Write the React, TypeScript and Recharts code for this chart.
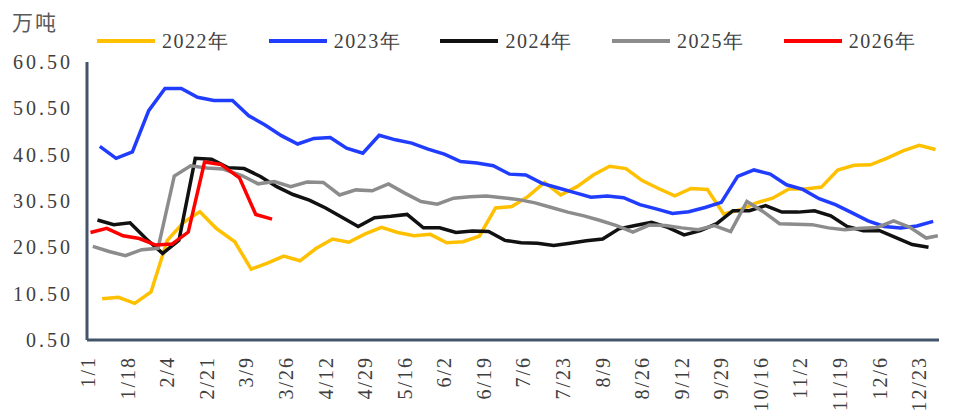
import React from "react";
import { LineChart, Line, XAxis, YAxis } from "recharts";

// weekly readings (万吨), first reading of each year is its first Friday
const start2022 = [2022, 1, 7];
const values2022 = [
  9.4, 9.7, 8.4, 10.9, 22.0, 25.9, 28.2, 24.6, 21.7, 15.8, 17.1, 18.6, 17.6,
  20.3, 22.3, 21.6, 23.4, 24.8, 23.7, 23.0, 23.3, 21.5, 21.7, 22.9, 29.0, 29.3,
  31.5, 34.5, 31.8, 33.6, 36.1, 38.0, 37.5, 34.9, 33.2, 31.6, 33.2, 33.0, 27.7,
  28.6, 30.1, 31.1, 33.1, 33.1, 33.5, 37.2, 38.2, 38.3, 39.7, 41.3, 42.5, 41.6,
];

const start2023 = [2023, 1, 6];
const values2023 = [
  42.3, 39.7, 41.1, 50.0, 54.8, 54.8, 52.9, 52.2, 52.2, 48.9, 46.9, 44.6, 42.8,
  44.0, 44.2, 41.9, 40.8, 44.7, 43.7, 43.0, 41.7, 40.6, 39.0, 38.7, 38.1, 36.3,
  36.1, 34.3, 33.3, 32.3, 31.3, 31.6, 31.2, 29.7, 28.8, 27.8, 28.2, 29.1, 30.2,
  35.8, 37.2, 36.3, 34.0, 33.0, 31.0, 29.7, 28.0, 26.2, 25.0, 24.7, 25.1, 26.1,
];

const start2024 = [2024, 1, 5];
const values2024 = [
  26.4, 25.4, 25.8, 22.3, 19.2, 22.0, 39.7, 39.5, 37.7, 37.5, 35.8, 33.6, 31.9,
  30.7, 29.0, 27.0, 25.0, 26.9, 27.2, 27.6, 24.7, 24.7, 23.7, 24.0, 23.9, 22.0,
  21.5, 21.4, 20.9, 21.4, 21.9, 22.3, 24.5, 25.2, 25.9, 24.8, 23.2, 24.1, 25.6,
  28.4, 28.4, 29.5, 28.1, 28.1, 28.4, 27.3, 25.0, 24.1, 24.1, 22.6, 21.1, 20.5,
];

const start2025 = [2025, 1, 3];
const values2025 = [
  20.7, 19.6, 18.7, 20.0, 20.3, 35.9, 38.1, 37.6, 37.4, 36.0, 34.2, 34.7, 33.6,
  34.6, 34.5, 31.8, 32.9, 32.7, 34.2, 32.2, 30.4, 29.8, 31.1, 31.4, 31.6, 31.2,
  30.8, 30.1, 29.1, 28.1, 27.3, 26.3, 25.2, 23.8, 25.3, 25.2, 24.7, 24.3, 25.2,
  23.9, 30.4, 28.2, 25.6, 25.5, 25.4, 24.7, 24.3, 24.6, 24.8, 26.2, 24.8, 22.5,
  23.0,
];

const start2026 = [2026, 1, 2];
const values2026 = [23.7, 24.6, 23.0, 22.4, 21.0, 21.2, 23.8, 38.9, 38.4, 35.5, 27.6, 26.6];

const tickLabels = [
  "1/1", "1/18", "2/4", "2/21", "3/9", "3/26", "4/12", "4/29", "5/16", "6/2", "6/19",
  "7/6", "7/23", "8/9", "8/26", "9/12", "9/29", "10/16", "11/2", "11/19", "12/6", "12/23",
];
const yTicks = [0.5, 10.5, 20.5, 30.5, 40.5, 50.5, 60.5];

// the date axis runs over a leap year (366 days)
const dayOfAxis = (month: number, date: number) =>
  Math.round((Date.UTC(2024, month - 1, date) - Date.UTC(2024, 0, 1)) / 864e5) + 1;

const axisLabel = (day: number) => {
  const d = new Date(Date.UTC(2024, 0, day));
  return `${d.getUTCMonth() + 1}/${d.getUTCDate()}`;
};

function weekly(start: number[], values: number[]) {
  const [year, month, date] = start;
  return values.map((value, i) => {
    let d = new Date(Date.UTC(year, month - 1, date + 7 * i));
    // the last reading of a year is booked on 12/31
    if (d.getUTCFullYear() > year) d = new Date(Date.UTC(year, 11, 31));
    return { day: dayOfAxis(d.getUTCMonth() + 1, d.getUTCDate()), value };
  });
}

const series = [
  { name: "2022年", color: "#FFC000", data: weekly(start2022, values2022) },
  { name: "2023年", color: "#1F3CFF", data: weekly(start2023, values2023) },
  { name: "2024年", color: "#111111", data: weekly(start2024, values2024) },
  { name: "2025年", color: "#8C8C8C", data: weekly(start2025, values2025) },
  { name: "2026年", color: "#FF0000", data: weekly(start2026, values2026) },
];

const xTicks = tickLabels.map((t) => {
  const [m, d] = t.split("/").map(Number);
  return dayOfAxis(m, d);
});

const FONT = "'Liberation Serif', serif";
const TEXT = "#404040";
const AXIS = "#44546A";

function DateTick({ x, y, payload }: { x?: number; y?: number; payload?: { value: number } }) {
  return (
    <g transform={`translate(${x},${y})`}>
      <text
        transform="rotate(-90)"
        textAnchor="end"
        dominantBaseline="central"
        fill={TEXT}
        fontSize={20}
        fontFamily={FONT}
        letterSpacing={2}
      >
        {axisLabel(payload?.value ?? 1)}
      </text>
    </g>
  );
}

export default function App() {
  return (
    <div style={{ position: "relative", width: 977, height: 418, background: "#fff" }}>
      <style>{"body{margin:0}"}</style>
      <div
        style={{
          position: "absolute",
          left: 12,
          top: 6,
          fontSize: 21,
          color: "#595959",
          fontFamily: "'Noto Sans CJK SC', sans-serif",
          letterSpacing: 2,
        }}
      >
        万吨
      </div>
      {series.map((s, i) => (
        <div
          key={s.name}
          style={{
            position: "absolute",
            left: 97 + i * 171.7,
            top: 29,
            height: 24,
            display: "flex",
            alignItems: "center",
          }}
        >
          <span style={{ width: 58, height: 4, background: s.color, marginRight: 7 }} />
          <span style={{ fontSize: 20, fontFamily: FONT, color: TEXT, letterSpacing: 1.5 }}>
            {s.name}
          </span>
        </div>
      ))}
      <LineChart width={977} height={418} margin={{ top: 62, right: 38, bottom: 0, left: 0 }}>
        <XAxis
          dataKey="day"
          type="number"
          domain={[0.5, 366.5]}
          ticks={xTicks}
          interval={0}
          allowDataOverflow
          height={78}
          tickSize={0}
          tickMargin={16}
          tickLine={false}
          axisLine={{ stroke: AXIS, strokeWidth: 3 }}
          tick={<DateTick />}
        />
        <YAxis
          type="number"
          domain={[0.5, 60.5]}
          ticks={yTicks}
          interval={0}
          width={87}
          tickSize={0}
          tickMargin={14}
          tickLine={false}
          axisLine={{ stroke: AXIS, strokeWidth: 3 }}
          tickFormatter={(v: number) => v.toFixed(2)}
          tick={{ fill: TEXT, fontSize: 20, fontFamily: FONT, letterSpacing: 3 }}
        />
        {series.map((s) => (
          <Line
            key={s.name}
            data={s.data}
            dataKey="value"
            name={s.name}
            type="linear"
            stroke={s.color}
            strokeWidth={3.5}
            dot={false}
            activeDot={false}
            isAnimationActive={false}
          />
        ))}
      </LineChart>
    </div>
  );
}
